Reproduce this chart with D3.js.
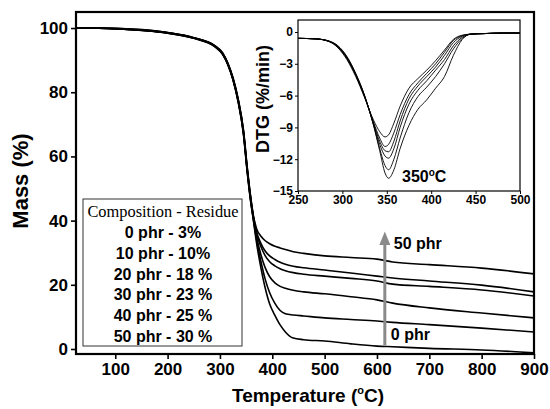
<!DOCTYPE html>
<html lang="en">
<head>
  <meta charset="UTF-8">
  <title>TGA / DTG</title>
  <style>
      body { margin: 0; background: #fff; }
      svg { display: block; }
      .tick text { font-family: "Liberation Sans", Arial, sans-serif; font-weight: bold; fill: #000; }
      .lbl { font-family: "Liberation Sans", Arial, sans-serif; font-weight: bold; fill: #000; }
      .frame { fill: none; stroke: #000; }
  </style>
</head>
<body>
<div id="chart"></div>
<script src="https://d3js.org/d3.v7.min.js"></script>
<script>
  // TGA curves (mass %), shared temperature grid
  const tgaTemp = [25, 100, 200, 250, 290, 305, 315, 325, 335, 345, 352, 358, 364, 370, 378, 386, 395, 405, 415, 425, 440, 460, 500, 550, 600, 630, 700, 800, 900];
  const mass0  = [100.1, 99.8, 98.4, 96.8, 94.2, 91.8, 88.6, 83.8, 76.8, 66.8, 55.3, 46.8, 40.0, 33.0, 25.5, 19.3, 14.0, 10.5, 7.5, 5.3, 3.4, 2.9, 2.5, 1.6, 0.9, 0.7, 0.2, -0.3, -1.2];
  const mass10 = [100.1, 99.8, 98.4, 96.8, 94.3, 91.9, 88.7, 83.9, 77.0, 67.0, 55.6, 47.1, 40.3, 34.0, 27.5, 22.0, 17.5, 14.2, 12.0, 11.0, 10.6, 10.3, 9.7, 9.2, 8.7, 8.3, 7.6, 6.5, 5.3];
  const mass20 = [100.1, 99.8, 98.5, 96.9, 94.3, 92.0, 88.8, 84.0, 77.2, 67.3, 55.9, 47.4, 40.6, 35.0, 29.5, 25.5, 22.5, 20.6, 19.5, 18.9, 18.3, 17.8, 17.2, 16.3, 15.3, 14.3, 12.8, 11.2, 9.7];
  const mass30 = [100.1, 99.8, 98.5, 96.9, 94.4, 92.1, 88.9, 84.2, 77.4, 67.6, 56.2, 47.7, 40.9, 36.0, 32.0, 29.2, 27.2, 25.9, 25.0, 24.4, 23.8, 23.3, 22.7, 22.0, 21.2, 20.2, 19.5, 18.4, 16.5];
  const mass40 = [100.1, 99.9, 98.6, 97.0, 94.5, 92.2, 89.0, 84.3, 77.6, 67.9, 56.5, 48.0, 41.2, 36.5, 33.0, 30.6, 29.0, 27.9, 27.0, 26.4, 25.8, 25.3, 24.6, 23.7, 22.7, 22.1, 21.2, 19.9, 17.8];
  const mass50 = [100.1, 99.9, 98.6, 97.0, 94.5, 92.3, 89.1, 84.5, 77.8, 68.2, 56.8, 48.3, 41.5, 37.5, 35.2, 33.8, 32.8, 32.0, 31.5, 31.0, 30.3, 29.8, 29.0, 28.5, 28.0, 27.1, 26.3, 25.2, 23.4];
  const tgaSeries = [mass0, mass10, mass20, mass30, mass40, mass50];

  // DTG curves (%/min), inset
  const dtgTemp = [250, 270, 285, 295, 305, 315, 325, 335, 342, 348, 352, 358, 365, 375, 385, 395, 405, 415, 425, 435, 445, 460, 480, 500];
  const dtgA = [-0.6, -0.65, -0.9, -1.5, -2.6, -4.2, -6.2, -8.3, -9.4, -9.9, -9.7, -8.6, -7.0, -5.3, -4.4, -3.6, -2.7, -1.7, -0.7, -0.3, -0.2, -0.15, -0.1, -0.1];
  const dtgB = [-0.6, -0.65, -0.9, -1.45, -2.5, -4.1, -6.1, -8.5, -10.0, -10.8, -10.6, -9.5, -7.8, -5.9, -4.8, -3.9, -3.0, -1.9, -0.8, -0.35, -0.2, -0.15, -0.1, -0.1];
  const dtgC = [-0.6, -0.65, -0.9, -1.4, -2.45, -4.05, -6.1, -8.6, -10.3, -11.2, -11.3, -10.3, -8.4, -6.3, -5.1, -4.2, -3.3, -2.2, -1.0, -0.4, -0.2, -0.15, -0.1, -0.1];
  const dtgD = [-0.6, -0.65, -0.88, -1.38, -2.4, -4.0, -6.05, -8.7, -10.6, -11.7, -11.9, -11.0, -9.0, -6.8, -5.5, -4.6, -3.6, -2.6, -1.3, -0.5, -0.2, -0.15, -0.1, -0.1];
  const dtgE = [-0.6, -0.65, -0.86, -1.34, -2.35, -3.95, -6.0, -8.75, -11.0, -12.6, -13.0, -12.0, -10.0, -7.6, -6.1, -5.2, -4.2, -3.0, -1.6, -0.6, -0.2, -0.15, -0.1, -0.1];
  const dtgF = [-0.6, -0.65, -0.85, -1.3, -2.3, -3.9, -6.0, -8.8, -11.2, -13.3, -13.8, -13.0, -11.0, -8.8, -7.3, -6.4, -5.3, -4.2, -2.2, -0.7, -0.2, -0.15, -0.1, -0.1];
  const dtgSeries = [dtgA, dtgB, dtgC, dtgD, dtgE, dtgF];

  const massTicks = [0, 20, 40, 60, 80, 100];
  const tempTicks = [100, 200, 300, 400, 500, 600, 700, 800, 900];
  const dtgTicks = [0, -3, -6, -9, -12, -15];
  const dtgTempTicks = [250, 300, 350, 400, 450, 500];
  const legendLines = ["0 phr - 3%", "10 phr - 10%", "20 phr - 18 %", "30 phr - 23 %", "40 phr - 25 %", "50 phr - 30 %"];

  const W = 550, H = 409;
  const svg = d3.select("#chart").append("svg")
    .attr("width", W)
    .attr("height", H);

  // main plot
  const x = d3.scaleLinear().domain([25, 900]).range([76, 534]);
  const y = d3.scaleLinear().domain([-1.56, 105]).range([354, 12]);

  svg.append("defs").append("clipPath").attr("id", "mainClip")
    .append("rect").attr("x", 76).attr("y", 12).attr("width", 458).attr("height", 342);

  const tgaLine = d3.line()
    .x((d, i) => x(tgaTemp[i]))
    .y(d => y(d))
    .curve(d3.curveMonotoneX);

  svg.append("g").attr("clip-path", "url(#mainClip)")
    .selectAll("path")
    .data(tgaSeries)
    .enter().append("path")
    .attr("d", tgaLine)
    .attr("fill", "none")
    .attr("stroke", "#000")
    .attr("stroke-width", 1.6);

  const yAxis = svg.append("g")
    .attr("transform", "translate(76,0)")
    .call(d3.axisLeft(y).tickValues(massTicks).tickSize(5).tickPadding(3));
  yAxis.select(".domain").remove();
  yAxis.selectAll("line").attr("stroke-width", 1.6);
  yAxis.selectAll("text").style("font-size", "17px");

  const xAxis = svg.append("g")
    .attr("transform", "translate(0,354)")
    .call(d3.axisBottom(x).tickValues(tempTicks).tickSize(5).tickPadding(4));
  xAxis.select(".domain").remove();
  xAxis.selectAll("line").attr("stroke-width", 1.6);
  xAxis.selectAll("text").style("font-size", "17px");

  svg.append("rect").attr("class", "frame")
    .attr("x", 76).attr("y", 12).attr("width", 458).attr("height", 342)
    .attr("stroke-width", 2.2);

  // axis titles
  svg.append("text").attr("class", "lbl")
    .attr("transform", "translate(28,181) rotate(-90)")
    .attr("text-anchor", "middle")
    .style("font-size", "22px")
    .text("Mass (%)");

  const xt = svg.append("text").attr("class", "lbl")
    .attr("x", 308).attr("y", 402)
    .attr("text-anchor", "middle")
    .style("font-size", "19px");
  xt.append("tspan").text("Temperature (");
  xt.append("tspan").attr("dy", -8).style("font-size", "11px").text("o");
  xt.append("tspan").attr("dy", 8).text("C)");

  // legend box
  svg.append("rect")
    .attr("x", 83).attr("y", 199).attr("width", 159).attr("height", 147)
    .attr("fill", "#fff").attr("stroke", "#333").attr("stroke-width", 1);
  svg.append("text")
    .attr("x", 163).attr("y", 217)
    .attr("text-anchor", "middle")
    .style("font-family", "'Liberation Serif', 'Times New Roman', serif")
    .style("font-size", "16.4px")
    .text("Composition - Residue");
  svg.selectAll(".leg")
    .data(legendLines)
    .enter().append("text")
    .attr("class", "lbl leg")
    .attr("x", 163)
    .attr("y", (d, i) => 238 + i * 20.8)
    .attr("text-anchor", "middle")
    .style("font-size", "16px")
    .text(d => d);

  // arrow
  const ax = x(615);
  svg.append("line")
    .attr("x1", ax).attr("x2", ax)
    .attr("y1", y(1.2)).attr("y2", y(33))
    .attr("stroke", "#8a8a8a").attr("stroke-width", 3);
  svg.append("path")
    .attr("d", `M${ax},${y(36.6)} L${ax - 5.5},${y(32.4)} L${ax + 5.5},${y(32.4)} Z`)
    .attr("fill", "#8a8a8a");
  svg.append("text").attr("class", "lbl")
    .attr("x", ax + 9).attr("y", 249)
    .style("font-size", "16px")
    .text("50 phr");
  svg.append("text").attr("class", "lbl")
    .attr("x", ax + 6).attr("y", 340)
    .style("font-size", "16px")
    .text("0 phr");

  // inset
  const ix = d3.scaleLinear().domain([250, 500]).range([298, 520]);
  const iy = d3.scaleLinear().domain([-15, 1.13]).range([191, 20]);

  svg.append("rect")
    .attr("x", 298).attr("y", 20).attr("width", 222).attr("height", 171)
    .attr("fill", "#fff");

  svg.select("defs").append("clipPath").attr("id", "insetClip")
    .append("rect").attr("x", 298).attr("y", 20).attr("width", 222).attr("height", 171);

  const dtgLine = d3.line()
    .x((d, i) => ix(dtgTemp[i]))
    .y(d => iy(d))
    .curve(d3.curveMonotoneX);

  svg.append("g").attr("clip-path", "url(#insetClip)")
    .selectAll("path")
    .data(dtgSeries)
    .enter().append("path")
    .attr("d", dtgLine)
    .attr("fill", "none")
    .attr("stroke", "#000")
    .attr("stroke-width", 0.9);

  const iyAxis = svg.append("g")
    .attr("transform", "translate(298,0)")
    .call(d3.axisLeft(iy).tickValues(dtgTicks).tickSize(3).tickPadding(2));
  iyAxis.select(".domain").remove();
  iyAxis.selectAll("text").style("font-size", "12px");

  const ixAxis = svg.append("g")
    .attr("transform", "translate(0,191)")
    .call(d3.axisBottom(ix).tickValues(dtgTempTicks).tickSize(3).tickPadding(1));
  ixAxis.select(".domain").remove();
  ixAxis.selectAll("text").style("font-size", "12px");

  svg.append("rect").attr("class", "frame")
    .attr("x", 298).attr("y", 20).attr("width", 222).attr("height", 171)
    .attr("stroke-width", 1.2);

  svg.append("text").attr("class", "lbl")
    .attr("transform", "translate(269,99) rotate(-90)")
    .attr("text-anchor", "middle")
    .style("font-size", "18px")
    .text("DTG (%/min)");

  const pk = svg.append("text").attr("class", "lbl")
    .attr("x", 402).attr("y", 182)
    .style("font-size", "16px");
  pk.append("tspan").text("350");
  pk.append("tspan").attr("dy", -6).style("font-size", "10px").text("o");
  pk.append("tspan").attr("dy", 6).text("C");
</script>
</body>
</html>
